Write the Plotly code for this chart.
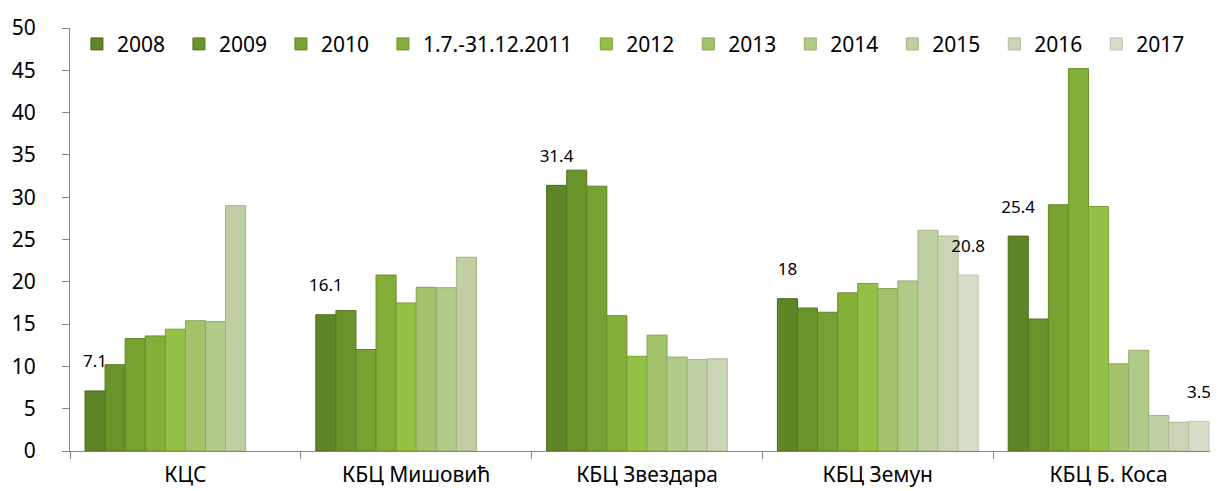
import plotly.graph_objects as go

categories = ["КЦС", "КБЦ Мишовић", "КБЦ Звездара", "КБЦ Земун", "КБЦ Б. Коса"]
series_names = ["2008", "2009", "2010", "1.7.-31.12.2011", "2012", "2013",
                "2014", "2015", "2016", "2017"]

v2008 = [7.1, 16.1, 31.4, 18.0, 25.4]
v2009 = [10.2, 16.6, 33.2, 16.9, 15.6]
v2010 = [13.3, 12.0, 31.3, 16.4, 29.1]
v2011 = [13.6, 20.8, 16.0, 18.7, 45.2]
v2012 = [14.4, 17.5, 11.2, 19.8, 28.9]
v2013 = [15.4, 19.35, 13.7, 19.2, 10.3]
v2014 = [15.3, 19.3, 11.1, 20.1, 11.9]
v2015 = [29.0, 22.9, 10.8, 26.1, 4.2]
v2016 = [None, None, 10.9, 25.4, 3.4]
v2017 = [None, None, None, 20.8, 3.5]

series_values = [v2008, v2009, v2010, v2011, v2012, v2013, v2014, v2015, v2016, v2017]
labelled = {"2008", "2017"}

colors = ["#5f8527", "#6b932c", "#77a231", "#83af38", "#94c046",
          "#a3c26a", "#b2ca88", "#bfcfa2", "#c9d5b4", "#d6ddc9"]
edges = ["#4a6a1c", "#557622", "#5f8426", "#6a9029", "#789f33",
         "#87a552", "#96ad6c", "#a3b386", "#aebb98", "#bcc3ad"]

FONT = "Noto Sans, Open Sans, sans-serif"

def fmt(v):
    if v is None:
        return ""
    # value on first line; a tiny blank second line lifts it off the bar top
    return ("<span style='font-size:17px'>%g</span><br>"
            "<span style='font-size:4px'>\u00a0</span>" % v)

fig = go.Figure()
for name, vals, c, e in zip(series_names, series_values, colors, edges):
    txt = [fmt(v) for v in vals] if name in labelled else None
    fig.add_trace(go.Bar(
        x=categories, y=vals, name=name + "\u2009\u00a0",
        marker=dict(color=c, line=dict(color=e, width=1)),
        text=txt, textposition="outside" if txt else None,
        textfont=dict(size=15, color="black", family=FONT),
        cliponaxis=False, constraintext="none",
    ))

fig.update_layout(
    width=1218, height=491,
    margin=dict(l=62, r=2, t=20, b=48),
    barmode="group", bargap=0.13, bargroupgap=0,
    plot_bgcolor="white", paper_bgcolor="white",
    font=dict(family=FONT, size=21, color="black"),
    legend=dict(orientation="h", x=0.006, y=1.01, xanchor="left", yanchor="top",
                font=dict(size=21), bgcolor="rgba(0,0,0,0)",
                itemwidth=30, tracegroupgap=0),
    showlegend=True,
)
fig.update_yaxes(range=[0, 50], dtick=5, showgrid=False, zeroline=False,
                 showline=True, linecolor="#868686", linewidth=1,
                 ticks="outside", ticklen=7, tickcolor="#868686",
                 ticklabelstandoff=22)
fig.update_xaxes(showgrid=False, showline=True, linecolor="#868686", linewidth=1,
                 ticks="outside", ticklen=7, tickcolor="#868686",
                 tickson="boundaries", ticklabelstandoff=5)

fig.write_html("out.html")
